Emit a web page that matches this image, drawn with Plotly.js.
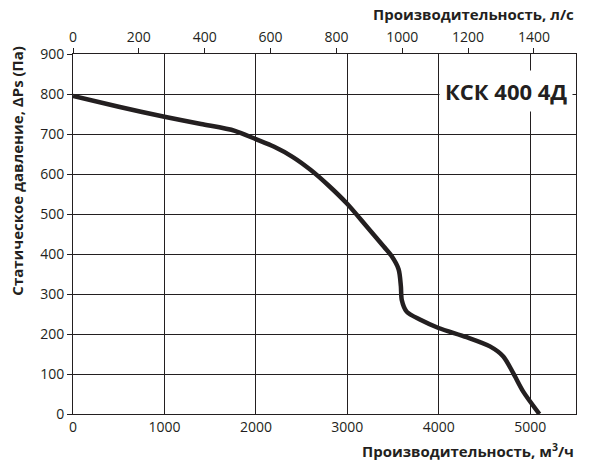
<!DOCTYPE html>
<html>
<head>
<meta charset="utf-8">
<script src="https://cdn.plot.ly/plotly-3.0.1.min.js"></script>
<style>
  html, body { margin: 0; padding: 0; background: #fff; }
  #chart { width: 590px; height: 463px; }
</style>
</head>
<body>
<div id="chart"></div>
<script>
// кривая вентилятора, м3/ч -> Па
const flowM3h = [0, 500, 1000, 1400, 1770, 2000, 2200, 2400, 2600, 2800, 3000, 3200, 3400, 3480, 3560, 3585, 3595, 3648, 3793, 3997, 4304, 4559, 4705, 4814, 4923, 5100];
const pressurePa = [795, 768, 743, 725, 708, 687, 668, 643, 610, 570, 525, 472, 418, 396, 362, 320, 285, 256, 236, 215, 192, 169, 144, 102, 56, 0];

const bottomTicks = [0, 1000, 2000, 3000, 4000, 5000];
const topTicks = [0, 200, 400, 600, 800, 1000, 1200, 1400];
const leftTicks = [0, 100, 200, 300, 400, 500, 600, 700, 800, 900];

const modelName = "КСК 400 4Д";
const m3hPerLs = 3.6;
const xMax = 5500;

const ink = "#231f20";
const tickFont = { family: "Open Sans, sans-serif", size: 14, color: ink };
const titleFont = { family: "Open Sans, sans-serif", size: 15, color: ink, weight: "bold" };

var traces = [
  {
    x: flowM3h,
    y: pressurePa,
    type: "scatter",
    mode: "lines",
    line: { color: ink, width: 4.5, shape: "spline", smoothing: 0.8 },
    hoverinfo: "skip",
  },
  {
    // пустой ряд, чтобы ось л/с появилась сверху
    x: [0],
    y: [0],
    xaxis: "x2",
    type: "scatter",
    mode: "markers",
    marker: { opacity: 0 },
    hoverinfo: "skip",
  },
];

var layout = {
  width: 590,
  height: 463,
  margin: { l: 73, r: 14, t: 54, b: 49 },
  paper_bgcolor: "#fff",
  plot_bgcolor: "#fff",
  showlegend: false,
  xaxis: {
    range: [0, xMax],
    tickvals: bottomTicks,
    ticks: "",
    showgrid: true,
    gridcolor: ink,
    gridwidth: 1,
    zeroline: false,
    showline: true,
    linecolor: ink,
    linewidth: 1,
    mirror: true,
    tickfont: tickFont,
    fixedrange: true,
  },
  xaxis2: {
    overlaying: "x",
    side: "top",
    range: [0, xMax / m3hPerLs],
    tickvals: topTicks,
    ticks: "outside",
    ticklen: 5,
    tickcolor: ink,
    tickwidth: 1,
    showgrid: false,
    zeroline: false,
    showline: false,
    tickfont: tickFont,
    fixedrange: true,
  },
  yaxis: {
    range: [0, 900],
    tickvals: leftTicks,
    ticks: "outside",
    ticklen: 5,
    tickcolor: ink,
    tickwidth: 1,
    showgrid: true,
    gridcolor: ink,
    gridwidth: 1,
    zeroline: false,
    showline: true,
    linecolor: ink,
    linewidth: 1,
    mirror: true,
    tickfont: tickFont,
    fixedrange: true,
  },
  annotations: [
    {
      text: modelName,
      xref: "paper", yref: "paper",
      x: 0.861, y: 0.897,
      xanchor: "center", yanchor: "middle",
      showarrow: false,
      bgcolor: "#fff",
      borderpad: 5,
      font: { family: "Open Sans, sans-serif", size: 22, color: ink, weight: "bold" },
    },
    {
      text: "Производительность, л/с",
      xref: "paper", yref: "paper",
      x: 1.0, y: 1.111,
      xanchor: "right", yanchor: "middle",
      showarrow: false,
      font: titleFont,
    },
    {
      text: "Производительность, м<sup>3</sup>/ч",
      xref: "paper", yref: "paper",
      x: 1.0, y: -0.1,
      xanchor: "right", yanchor: "middle",
      showarrow: false,
      font: titleFont,
    },
    {
      text: "Статическое давление, ΔPs (Па)",
      xref: "paper", yref: "paper",
      x: -0.112, y: 0.675,
      xanchor: "center", yanchor: "middle",
      textangle: -90,
      showarrow: false,
      font: titleFont,
    },
  ],
};

Plotly.newPlot("chart", traces, layout, { displayModeBar: false, staticPlot: true });
</script>
</body>
</html>
